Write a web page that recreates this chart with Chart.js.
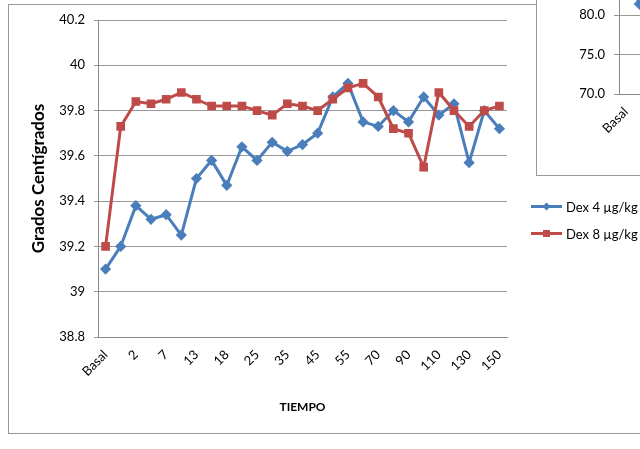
<!DOCTYPE html>
<html lang="es">
<head>
  <meta charset="UTF-8">
  <title>Grados Centígrados</title>
  <script src="https://cdn.jsdelivr.net/npm/chart.js"></script>
  <style>
    html, body {
      margin: 0;
      padding: 0;
      width: 640px;
      height: 449px;
      overflow: hidden;
      background: #fff;
      font-family: Lato, "Open Sans", sans-serif;
    }
    #frame {
      position: absolute;
      left: 8px;
      top: 4px;
      width: 700px;
      height: 430px;
      box-sizing: border-box;
      border: 1px solid #999;
    }
    #main {
      position: absolute;
      left: 0;
      top: 0;
    }
    #legend {
      position: absolute;
      left: 531px;
      top: 193px;
      font-size: 13px;
      color: #000;
    }
    .item {
      height: 27px;
      display: flex;
      align-items: center;
    }
    .swatch {
      position: relative;
      width: 31px;
      height: 3px;
      margin-right: 4px;
    }
    .swatch i {
      position: absolute;
      left: 12px;
      top: -2px;
      width: 7px;
      height: 7px;
    }
    #other {
      position: absolute;
      left: 536px;
      top: -100px;
      width: 472px;
      height: 276px;
      box-sizing: border-box;
      border: 1px solid #999;
      background: #fff;
    }
  </style>
</head>
<body>

  <div id="frame"></div>
  <canvas id="main" width="640" height="449"></canvas>

  <div id="legend">
    <div class="item"><span class="swatch" style="background:#4A7EBB"><i style="background:#4A7EBB;transform:rotate(45deg) scale(0.8)"></i></span>Dex 4 µg/kg</div>
    <div class="item"><span class="swatch" style="background:#BE4B48"><i style="background:#BE4B48"></i></span>Dex 8 µg/kg</div>
  </div>

  <div id="other"><canvas id="second" width="470" height="274"></canvas></div>

  <script>
    const tiempo = ['Basal', '1', '2', '5', '7', '10', '13', '15', '18', '20', '25', '30', '35', '40',
                    '45', '50', '55', '60', '70', '80', '90', '100', '110', '120', '130', '140', '150'];
    const dex4 = [39.10, 39.20, 39.38, 39.32, 39.34, 39.25, 39.50, 39.58, 39.47, 39.64, 39.58, 39.66, 39.62, 39.65,
                  39.70, 39.86, 39.92, 39.75, 39.73, 39.80, 39.75, 39.86, 39.78, 39.83, 39.57, 39.80, 39.72];
    const dex8 = [39.20, 39.73, 39.84, 39.83, 39.85, 39.88, 39.85, 39.82, 39.82, 39.82, 39.80, 39.78, 39.83, 39.82,
                  39.80, 39.85, 39.90, 39.92, 39.86, 39.72, 39.70, 39.55, 39.88, 39.80, 39.73, 39.80, 39.82];
    const yTickLabels = ['38.8', '39', '39.2', '39.4', '39.6', '39.8', '40', '40.2'];

    // the chart lying on top, only its corner shows
    const otherValues = [85.0, 81.4];
    const otherTickLabels = ['70.0', '75.0', '80.0', '85.0', '90.0'];

    const blue = '#4A7EBB';
    const red = '#BE4B48';
    const tickFont = { family: 'Lato', size: 13 };

    new Chart(document.getElementById('main'), {
      type: 'line',
      data: {
        labels: tiempo,
        datasets: [{
          label: 'Dex 4 µg/kg',
          data: dex4,
          borderColor: blue,
          backgroundColor: blue,
          borderWidth: 3,
          pointStyle: 'rectRot',
          pointRadius: 3.5,
          order: 1
        }, {
          label: 'Dex 8 µg/kg',
          data: dex8,
          borderColor: red,
          backgroundColor: red,
          borderWidth: 3,
          pointStyle: 'rect',
          pointRadius: 4,
          order: 0
        }]
      },
      options: {
        responsive: false,
        animation: false,
        devicePixelRatio: 1,
        layout: { padding: { left: 24, top: 20, right: 133, bottom: 31 } },
        plugins: { legend: { display: false }, tooltip: { enabled: false } },
        scales: {
          x: {
            offset: true,
            grid: { display: false, drawTicks: false },
            border: { color: '#888' },
            ticks: {
              autoSkip: false,
              maxRotation: 45,
              minRotation: 45,
              padding: 10,
              color: '#000',
              font: tickFont,
              callback: (v, i) => (i % 2 === 0 ? tiempo[i] : '')
            },
            title: {
              display: true,
              text: 'TIEMPO',
              color: '#000',
              font: { family: 'Lato', size: 12, weight: 'bold' },
              padding: { top: 4, bottom: 4 }
            },
            afterFit: s => { s.height = 81; }
          },
          y: {
            min: 38.8,
            max: 40.2,
            grid: { color: '#999', tickLength: 4 },
            border: { color: '#888' },
            ticks: {
              stepSize: 0.2,
              padding: 9,
              color: '#000',
              font: tickFont,
              callback: (v, i) => yTickLabels[i]
            },
            title: {
              display: true,
              text: 'Grados Centígrados',
              color: '#000',
              font: { family: 'Lato', size: 17, weight: 'bold' },
              padding: 4
            },
            afterFit: s => { s.width = 74; }
          }
        }
      }
    });

    new Chart(document.getElementById('second'), {
      type: 'line',
      data: {
        labels: tiempo,
        datasets: [{
          data: otherValues,
          borderColor: blue,
          backgroundColor: blue,
          borderWidth: 3,
          pointStyle: 'rectRot',
          pointRadius: 4
        }]
      },
      options: {
        responsive: false,
        animation: false,
        devicePixelRatio: 1,
        layout: { padding: { left: 0, top: 35, right: 10, bottom: 0 } },
        plugins: { legend: { display: false }, tooltip: { enabled: false } },
        scales: {
          x: {
            offset: true,
            grid: { display: false, drawTicks: false },
            border: { color: '#888' },
            ticks: {
              autoSkip: false,
              maxRotation: 45,
              minRotation: 45,
              padding: 10,
              color: '#000',
              font: tickFont,
              callback: (v, i) => (i % 2 === 0 ? tiempo[i] : '')
            },
            afterFit: s => { s.height = 81; }
          },
          y: {
            min: 70,
            max: 90,
            grid: { color: '#999', tickLength: 5 },
            border: { color: '#888' },
            ticks: {
              stepSize: 5,
              padding: 9,
              color: '#000',
              font: tickFont,
              callback: (v, i) => otherTickLabels[i]
            },
            afterFit: s => { s.width = 82; }
          }
        }
      }
    });
  </script>

</body>
</html>
